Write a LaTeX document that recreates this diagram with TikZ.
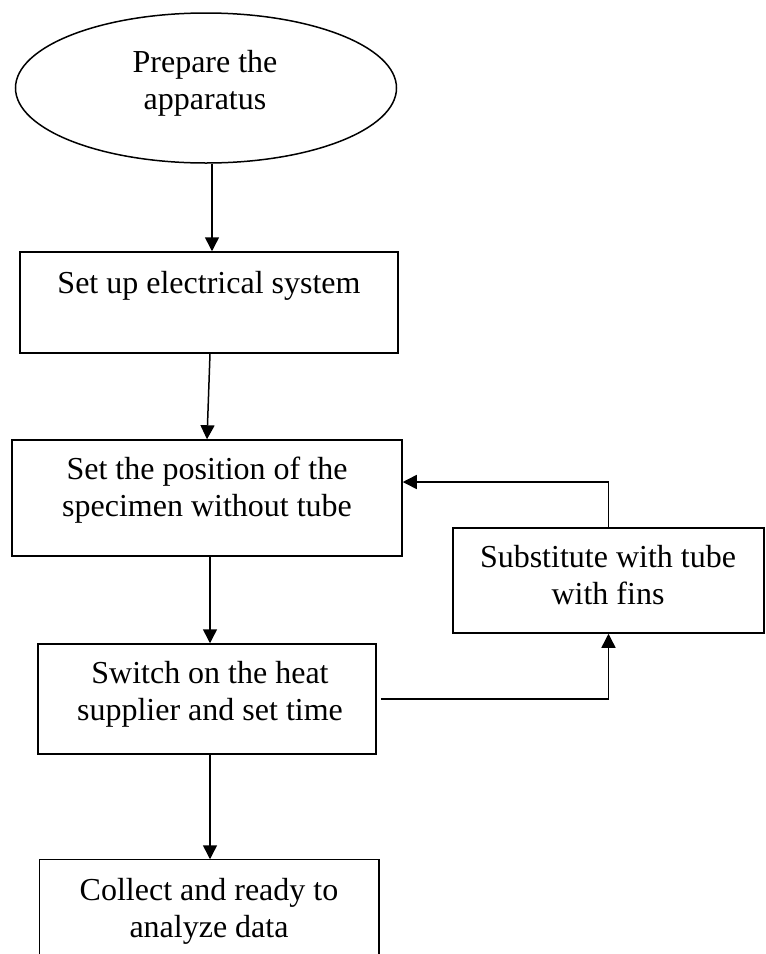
\documentclass[tikz,border=0pt]{standalone}
\usepackage{fontspec}
\setmainfont{Liberation Serif}
\usetikzlibrary{shapes.geometric,arrows.meta}
\newcommand\twol[2]{\begin{tabular}[t]{@{}c@{}}#1\\#2\end{tabular}}
\begin{document}
\begin{tikzpicture}[x=1pt,y=1pt,
  line width=1.5pt,
  every node/.style={font=\fontsize{32}{37.5}\selectfont},
  boxnode/.style={draw, rectangle, inner sep=0pt},
  txt/.style={anchor=base, inner sep=0pt},
  arr/.style={-{Triangle[length=14pt,width=14pt]}}]
\path[use as bounding box] (0,0) rectangle (766,-954);

% shapes
\node[draw, ellipse, inner sep=0pt, minimum width=381pt, minimum height=150pt] (prep) at (206,-88) {};
\node[boxnode, minimum width=378pt, minimum height=101pt] (elec) at (209,-302.5) {};
\node[boxnode, minimum width=390pt, minimum height=116pt] (pos) at (207,-498) {};
\node[boxnode, minimum width=311pt, minimum height=105pt] (subst) at (608.5,-580.5) {};
\node[boxnode, minimum width=338pt, minimum height=110pt] (sw) at (207,-699) {};
\node[rectangle, inner sep=0pt, minimum width=338pt, minimum height=94pt] (col) at (209,-907) {};
\draw (col.south west) -- (col.north west) -- (col.north east) -- (col.south east);

% texts
\node[txt] (tprep) at (205,-72) {\twol{Prepare the}{apparatus}};
\node[txt] (telec) at (209,-293) {Set up electrical system};
\node[txt] (tpos) at (207,-479) {\twol{Set the position of the}{specimen without tube}};
\node[txt] (tsubst) at (608,-567) {\twol{Substitute with tube}{with fins}};
\node[txt] (tsw) at (210,-683) {\twol{Switch on the heat}{supplier and set time}};
\node[txt] (tcol) at (209,-900) {\twol{Collect and ready to}{analyze data}};

% connectors
\draw[arr] ([xshift=6pt]prep.south) -- ([xshift=6pt]prep.south |- elec.north);
\draw[arr] ([xshift=1pt]elec.south) -- (pos.north);
\draw[arr] ([xshift=3pt]pos.south) -- ([xshift=3pt]pos.south |- sw.north);
\draw[arr] ([xshift=3pt]sw.south) -- ([xshift=3pt]sw.south |- col.north);
\draw[arr] ([xshift=4pt]sw.east) -| (subst.south);
\draw[arr] (subst.north) |- ([yshift=16pt]pos.east);
\end{tikzpicture}
\end{document}
